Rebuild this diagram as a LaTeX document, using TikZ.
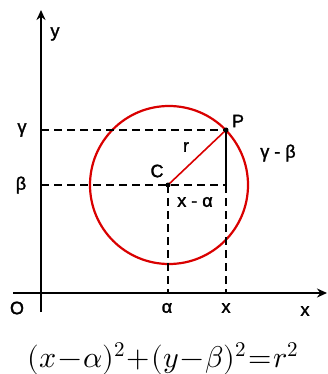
\documentclass[tikz,border=0pt]{standalone}
\usepackage{fontspec}
\setmainfont{Liberation Sans}
\newfontfamily\lblfont{Liberation Sans}[RawFeature={embolden=1.6}]
\usepackage{unicode-math}
\setmathfont{Latin Modern Math}
\usetikzlibrary{arrows.meta}
\begin{document}
\begin{tikzpicture}[x=1pt,y=-1pt,
  axis/.style={line width=2.7pt,-{Stealth[length=10pt,width=9pt]}},
  dsh/.style={line width=2.3pt,dash pattern=on 8pt off 5pt},
  lbl/.style={font=\lblfont\fontsize{18}{18}\selectfont,inner sep=0pt},
  dot/.style={circle,fill=black,inner sep=0pt,minimum size=5pt}]
\useasboundingbox (0,0) rectangle (328,374);
% points
\coordinate (O) at (41,293);
\coordinate (Ytop) at (41,10);
\coordinate (Ybot) at (41,312);
\coordinate (Xl) at (13,293);
\coordinate (Xr) at (327,293);
\coordinate (C) at (168,185);
\coordinate (P) at (226,130);
\coordinate (Q) at (226,185);
\coordinate (G) at (41,130);
\coordinate (B) at (41,185);
\coordinate (A) at (168,293);
\coordinate (X) at (226,293);
% circle
\draw[red!85!black,line width=2.2pt] (169,185) circle (79);
% dashed lines
\draw[dsh] (G) -- (P);
\draw[dsh] (B) -- (Q);
\draw[dsh] (C) -- (A);
\draw[dsh] (Q) -- (X);
% solid vertical
\draw[line width=2.5pt] (P) -- (Q);
% radius
\draw[red!85!black,line width=1.6pt] (C) -- (P);
% axes
\draw[axis] (Ybot) -- (Ytop);
\draw[axis] (Xl) -- (Xr);
% dots
\node[dot] (Cd) at (C) {};
\node[dot] (Pd) at (P) {};
% labels
\node[lbl] (ly) at (55,34) {y};
\node[lbl] (lg) at (22,130) {γ};
\node[lbl] (lb) at (21,185) {β};
\node[lbl] (lO) at (17,308) {O};
\node[lbl] (la) at (167,308) {α};
\node[lbl] (lx) at (226,308) {x};
\node[lbl] (lX) at (305,311) {x};
\node[lbl] (lC) at (157,171) {C};
\node[lbl] (lP) at (238,121) {P};
\node[lbl] (lr) at (186,147) {r};
\node[lbl] (lgb) at (278,153) {γ - β};
\node[lbl] (lxa) at (195,202) {x - α};
\node[inner sep=0pt,anchor=base] (eq) at (163,367) {\fontsize{30}{30}\selectfont$(x\mskip1mu{-}\mskip1mu\alpha)^2\mskip1mu{+}\mskip1mu(y\mskip1mu{-}\mskip1mu\beta)^2\mskip1mu{=}\mskip1mu r^2$};
\end{tikzpicture}
\end{document}
